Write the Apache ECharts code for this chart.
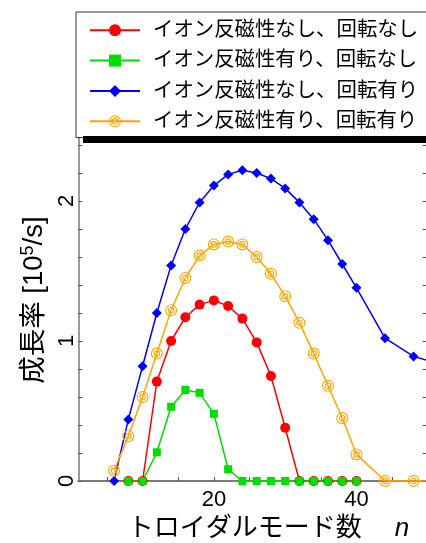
<!DOCTYPE html>
<html><head><meta charset="utf-8">
<script src="https://cdn.jsdelivr.net/npm/echarts@6/dist/echarts.min.js"></script>
<style>html,body{margin:0;padding:0;background:#fff}#c{width:426px;height:543px}</style>
</head><body><div id="c"></div>
<script>
const FONT = 'Liberation Sans, Noto Sans CJK JP, sans-serif';
const seriesNames = ['イオン反磁性なし、回転なし','イオン反磁性有り、回転なし','イオン反磁性なし、回転有り','イオン反磁性有り、回転有り'];
const nRed = [8,10,12,14,16,18,20,22,24,26,28,30,32,34,36,38,40];
const vRed = [0,0,0.71,1.00,1.17,1.26,1.29,1.25,1.16,0.99,0.75,0.38,0,0,0,0,0];
const nGreen = [8,10,12,14,16,18,20,22,24,26,28,30,32,34,36,38,40];
const vGreen = [0,0,0.205,0.53,0.65,0.63,0.48,0.084,0,0,0,0,0,0,0,0,0];
const nBlue = [6,8,10,12,14,16,18,20,22,24,26,28,30,32,34,36,38,40,44,48,52];
const vBlue = [0,0.44,0.82,1.20,1.54,1.80,1.99,2.11,2.19,2.22,2.20,2.16,2.09,1.99,1.87,1.72,1.55,1.38,1.02,0.89,0.83];
const nOrange = [6,8,10,12,14,16,18,20,22,24,26,28,30,32,34,36,38,40,44,48,52];
const vOrange = [0.074,0.32,0.60,0.91,1.22,1.45,1.61,1.69,1.71,1.69,1.60,1.48,1.32,1.13,0.91,0.68,0.45,0.19,0,0,0];
const xTicks = [5,10,15,20,25,30,35,40,45];
const xLabels = [20,40];
const yLabels = [0,1,2];
const yTicks = [0,0.2,0.4,0.6,0.8,1,1.2,1.4,1.6,1.8,2,2.2,2.4];

const zip = (a,b) => a.map((x,i)=>[x,b[i]]);
const ringPath = 'path://M10 0 A10 10 0 1 1 10 20 A10 10 0 1 1 10 0 Z M10 1.9 A8.1 8.1 0 1 0 10 18.1 A8.1 8.1 0 1 0 10 1.9 Z M10 4.5 A5.5 5.5 0 1 1 10 15.5 A5.5 5.5 0 1 1 10 4.5 Z M10 6.3 A3.7 3.7 0 1 0 10 13.7 A3.7 3.7 0 1 0 10 6.3 Z';

const chart = echarts.init(document.getElementById('c'), null, {renderer:'canvas'});
const mkLine = (name, data, color, symbol, size) => ({
  name, type:'line', data, symbol, symbolSize:size, showAllSymbol:true,
  lineStyle:{color, width:1.5}, itemStyle:{color, borderWidth:0}, clip:true, animation:false,
  emphasis:{disabled:true}
});
chart.setOption({
  animation:false,
  textStyle:{fontFamily:FONT},
  grid:{left:78.4, right:-1.8, top:135.2, bottom:62, containLabel:false, outerBoundsMode:'none'},
  legend:{
    data:seriesNames, left:76, top:12, orient:'vertical',
    backgroundColor:'#fff', borderColor:'#333', borderWidth:1,
    padding:[8,20,6,13], itemGap:10, itemWidth:50, itemHeight:15,
    selectedMode:false,
    textStyle:{fontFamily:FONT, fontSize:20.4, color:'#000', lineHeight:20, padding:[0,0,0,8]}
  },
  xAxis:{
    type:'value', min:1, max:50,
    name:'{a|トロイダルモード数}{n|n}', nameLocation:'middle', nameGap:34,
    nameTextStyle:{padding:[0,0,0,31], rich:{
      a:{fontFamily:FONT, fontSize:26, color:'#000'},
      n:{fontFamily:FONT, fontSize:26, fontStyle:'italic', color:'#000', padding:[0,0,0,33]}}},
    axisLine:{lineStyle:{color:'#7a7a7a', width:2}},
    axisTick:{inside:true, length:4, customValues:xTicks, lineStyle:{color:'#555'}},
    axisLabel:{customValues:xLabels, fontSize:22, color:'#000', margin:8, fontFamily:FONT},
    splitLine:{show:false}
  },
  yAxis:[{
    type:'value', min:0, max:2.47, position:'left',
    name:'{a|成長率 [10}{s|5}{a|/s]}', nameLocation:'middle', nameGap:29, nameRotate:90,
    nameTextStyle:{padding:[0,0,0,16], rich:{
      a:{fontFamily:FONT, fontSize:27.5, color:'#000', lineHeight:30},
      s:{fontFamily:FONT, fontSize:18, color:'#000', verticalAlign:'top', lineHeight:30}}},
    axisLine:{show:true, lineStyle:{color:'#7a7a7a', width:1.5}},
    axisTick:{inside:true, length:4, customValues:yTicks, lineStyle:{color:'#555'}},
    axisLabel:{customValues:yLabels, rotate:90, fontSize:22, color:'#000', margin:0, fontFamily:FONT},
    splitLine:{show:false}
  },{
    type:'value', min:0, max:2.47, position:'right',
    axisLine:{show:true, lineStyle:{color:'#7a7a7a', width:1.5}},
    axisTick:{inside:true, length:5, customValues:yTicks, lineStyle:{color:'#555'}},
    axisLabel:{show:false}, splitLine:{show:false}
  }],
  graphic:[{type:'rect', shape:{x:83, y:136, width:343, height:7}, style:{fill:'#000'}, z:100}],
  series:[
    mkLine(seriesNames[2], zip(nBlue,vBlue), '#0000ff', 'diamond', 10),
    mkLine(seriesNames[3], zip(nOrange,vOrange), '#ffa500', ringPath, 12),
    mkLine(seriesNames[0], zip(nRed,vRed), '#ff0000', 'circle', 10),
    mkLine(seriesNames[1], zip(nGreen,vGreen), '#00dd00', 'rect', 8)
  ]
});
</script></body></html>
